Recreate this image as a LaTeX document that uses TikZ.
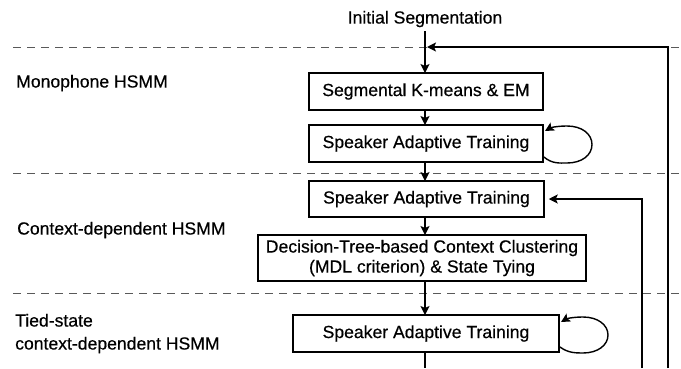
\documentclass[tikz,border=0pt]{standalone}
\usepackage{fontspec}
\setmainfont[FakeBold=0.5]{Liberation Sans}
\usetikzlibrary{arrows.meta}
\begin{document}
\begin{tikzpicture}[x=1pt,y=-1pt,
  every node/.style={font=\fontsize{17.6}{21}\selectfont, inner sep=0pt},
  stage/.style={draw, line width=1.5pt, align=center},
  arr/.style={line width=1.4pt, -{Stealth[length=9pt,width=9pt,inset=2pt]}},
  plain/.style={line width=1.4pt},
  sep/.style={line width=0.9pt, dash pattern=on 8pt off 6pt, black!65},
  grp/.style={anchor=west, align=left}]
\useasboundingbox (0,0) rectangle (681,368);

% phase separators
\coordinate (s1l) at (13,47);  \coordinate (s1r) at (681,47);
\coordinate (s2l) at (13,173); \coordinate (s2r) at (681,173);
\coordinate (s3l) at (13,293); \coordinate (s3r) at (681,293);
\draw[sep] (s1l) -- (s1r);
\draw[sep] (s2l) -- (s2r);
\draw[sep] (s3l) -- (s3r);

% phase labels
\node[grp] (lmono) at (16,83) {Monophone HSMM};
\node[grp] (lcd) at (17,230) {Context-dependent HSMM};
\node[grp, font=\fontsize{17.6}{23}\selectfont] (ltied) at (15,333.5) {Tied-state\\context-dependent HSMM};

% training stages
\node (init) at (425,19) {Initial Segmentation};
\node[stage, minimum width=234pt, minimum height=37pt] (b1) at (426,91.5) {Segmental K-means \& EM};
\node[stage, minimum width=234pt, minimum height=37pt] (b2) at (426,143.5) {Speaker Adaptive Training};
\node[stage, minimum width=235pt, minimum height=36pt] (b3) at (426.5,199) {Speaker Adaptive Training};
\node[stage, minimum width=328pt, minimum height=46pt, font=\fontsize{17.6}{20}\selectfont] (b4) at (422,258) {Decision-Tree-based Context Clustering\\(MDL criterion) \& State Tying};
\node[stage, minimum width=266pt, minimum height=37pt] (b5) at (426,333.5) {Speaker Adaptive Training};

% main flow
\coordinate (initb) at (425,31);
\coordinate (b1t) at (425,73);
\coordinate (b2t) at (425,125);
\coordinate (b3t) at (425,181);
\coordinate (b4t) at (425,235);
\coordinate (b5t) at (425,315);
\coordinate (bot) at (425,368);
\draw[arr] (initb) -- (b1t);
\draw[arr] (b1.south -| b1t) -- (b2t);
\draw[arr] (b2.south -| b2t) -- (b3t);
\draw[arr] (b3.south -| b3t) -- (b4t);
\draw[arr] (b4.south -| b4t) -- (b5t);
\draw[plain] (b5.south -| bot) -- (bot);

% feedback lines from below
\coordinate (fa) at (668,368);
\coordinate (fatop) at (668,47);
\coordinate (faend) at (427,47);
\draw[arr] (fa) -- (fatop) -- (faend);
\coordinate (fb) at (642,368);
\draw[arr, shorten >=4pt] (fb) |- (b3.east);

% self loops
\coordinate (l2s) at (544,157);
\coordinate (l2e) at (545,131);
\draw[arr] (l2s) .. controls (552,164) and (560,163) .. (567,163)
  .. controls (582,163) and (592,155) .. (592,144.5)
  .. controls (592,134) and (582,126) .. (567,126)
  .. controls (558,126) and (551,127.5) .. (l2e);
\coordinate (l5s) at (560,347);
\coordinate (l5e) at (561,322);
\draw[arr] (l5s) .. controls (568,353) and (576,353) .. (583,353)
  .. controls (598,353) and (608,345) .. (608,335)
  .. controls (608,325) and (598,317) .. (583,317)
  .. controls (574,317) and (567,318.5) .. (l5e);
\end{tikzpicture}
\end{document}
